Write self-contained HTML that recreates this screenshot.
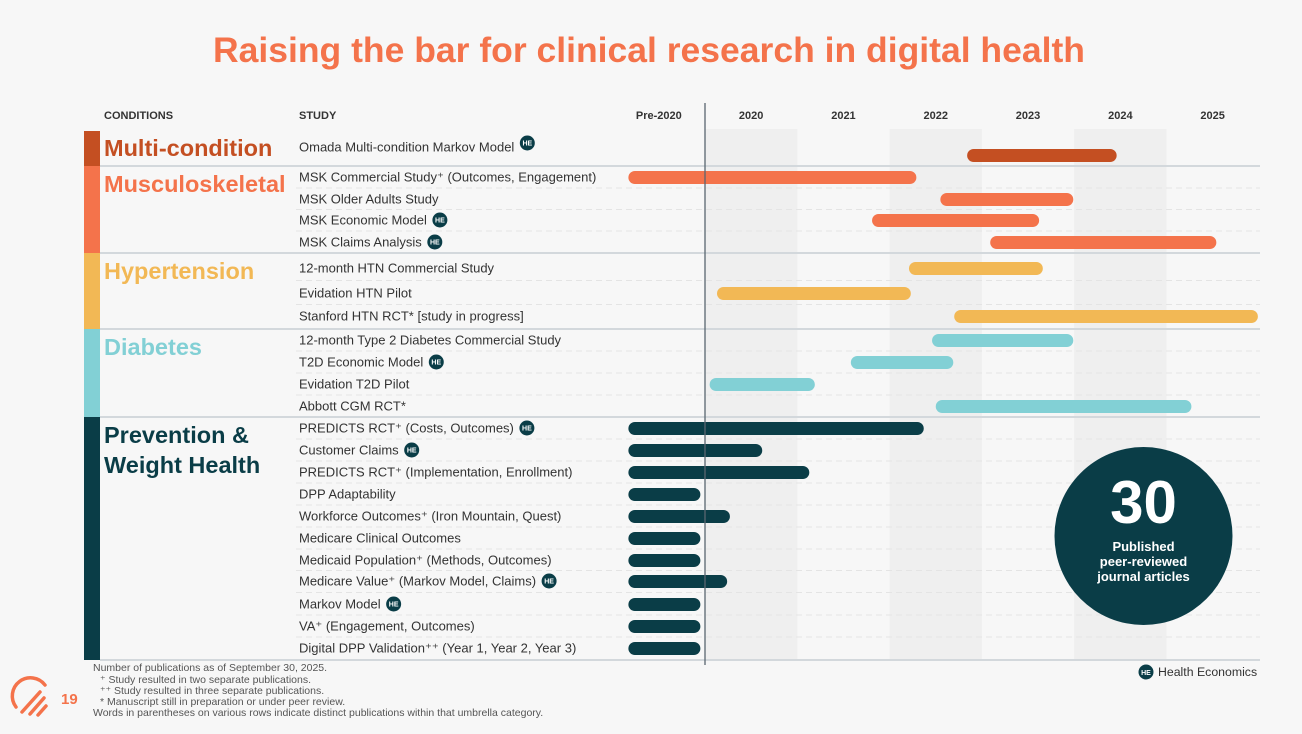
<!DOCTYPE html>
<html><head><meta charset="utf-8"><style>
html,body{margin:0;padding:0;background:#f7f7f7;}
body{width:1302px;height:729px;overflow:hidden;font-family:"Liberation Sans",sans-serif;}
svg text{font-family:"Liberation Sans",sans-serif;}
</style></head><body>
<svg id="chart" width="1302" height="729" viewBox="0 0 1302 729" xmlns="http://www.w3.org/2000/svg">
<rect width="1302" height="729" fill="#f7f7f7"/>
<text x="649" y="62" text-anchor="middle" font-size="35.5" font-weight="bold" fill="#f4734b">Raising the bar for clinical research in digital health</text>
<g id="bands"></g>
<g id="grid"></g>
<g id="groups"></g>
<g id="rows"></g>
<g id="bars"></g>
<text x="104" y="119" font-size="11" font-weight="bold" fill="#333">CONDITIONS</text>
<text x="299" y="119" font-size="11" font-weight="bold" fill="#333">STUDY</text>
<g id="ticks"></g>
<line x1="705" y1="103" x2="705" y2="665" stroke="#5a6670" stroke-width="1.3"/>
<g>
<circle cx="1143.5" cy="536" r="89" fill="#0a3d47"/>
<text x="1143.5" y="523" text-anchor="middle" font-size="60" font-weight="bold" fill="#fff">30</text>
<text x="1143.5" y="551" text-anchor="middle" font-size="13" font-weight="bold" fill="#fff">Published</text>
<text x="1143.5" y="566" text-anchor="middle" font-size="13" font-weight="bold" fill="#fff">peer-reviewed</text>
<text x="1143.5" y="581" text-anchor="middle" font-size="13" font-weight="bold" fill="#fff">journal articles</text>
</g>
<g>
<circle cx="1146" cy="672" r="7.5" fill="#0a3d47"/>
<text x="1146" y="675" text-anchor="middle" font-size="7" font-weight="bold" fill="#fff">HE</text>
<text x="1158" y="676" font-size="12.3" fill="#333">Health Economics</text>
</g>
<g font-size="10.5" fill="#555">
<text x="93" y="671">Number of publications as of September 30, 2025.</text>
<text x="100" y="683">⁺ Study resulted in two separate publications.</text>
<text x="100" y="694">⁺⁺ Study resulted in three separate publications.</text>
<text x="100" y="705">* Manuscript still in preparation or under peer review.</text>
<text x="93" y="716">Words in parentheses on various rows indicate distinct publications within that umbrella category.</text>
</g>
<g fill="none" stroke="#f4734b" stroke-width="3.5" stroke-linecap="round">
<path d="M16 707 A16 16 0 0 1 45 685"/>
<path d="M22 712 L40 692"/>
<path d="M30 714 L44 698"/>
<path d="M38 715 L46 706"/>
</g>
<text x="61" y="704" font-size="15" font-weight="bold" fill="#f4734b">19</text>
</svg>
<script>
const years = ["Pre-2020","2020","2021","2022","2023","2024","2025"];
const studies = ["Omada Multi-condition Markov Model","MSK Commercial Study⁺ (Outcomes, Engagement)","MSK Older Adults Study","MSK Economic Model","MSK Claims Analysis","12-month HTN Commercial Study","Evidation HTN Pilot","Stanford HTN RCT* [study in progress]","12-month Type 2 Diabetes Commercial Study","T2D Economic Model","Evidation T2D Pilot","Abbott CGM RCT*","PREDICTS RCT⁺ (Costs, Outcomes)","Customer Claims","PREDICTS RCT⁺ (Implementation, Enrollment)","DPP Adaptability","Workforce Outcomes⁺ (Iron Mountain, Quest)","Medicare Clinical Outcomes","Medicaid Population⁺ (Methods, Outcomes)","Medicare Value⁺ (Markov Model, Claims)","Markov Model","VA⁺ (Engagement, Outcomes)","Digital DPP Validation⁺⁺ (Year 1, Year 2, Year 3)"];
const rowGroup = [0,1,1,1,1,2,2,2,3,3,3,3,4,4,4,4,4,4,4,4,4,4,4];
const heFlags = [1,0,0,1,1,0,0,0,0,1,0,0,1,1,0,0,0,0,0,1,1,0,0];
const barStart = [2.84,-0.83,2.55,1.81,3.09,2.21,0.13,2.70,2.46,1.58,0.05,2.50,-0.83,-0.83,-0.83,-0.83,-0.83,-0.83,-0.83,-0.83,-0.83,-0.83,-0.83];
const barEnd = [4.46,2.29,3.99,3.62,5.54,3.66,2.23,5.99,3.99,2.69,1.19,5.27,2.37,0.62,1.13,-0.05,0.27,-0.05,-0.05,0.24,-0.05,-0.05,-0.05];
const groupNames = [["Multi-condition"],["Musculoskeletal"],["Hypertension"],["Diabetes"],["Prevention &","Weight Health"]];
const groupColors = ["#c44f22","#f4734b","#f2b855","#82d0d5","#0a3d47"];

const NS="http://www.w3.org/2000/svg";
function mk(tag,attrs,parent){const e=document.createElementNS(NS,tag);for(const k in attrs)e.setAttribute(k,attrs[k]);parent.appendChild(e);return e;}
const x0=705, yw=92.3;
function xs(v){return x0+v*yw;}
const rowY=[147,177,199,220,242,268,293,316,340,362,384,406,428,450,472,494,516,538,560,581,604,626,648];
const groupTop=[131,166,253,329,417];
const groupBot=[166,253,329,417,660];

const bands=document.getElementById('bands');
[0,2,4].forEach(k=>{
 const r=mk('rect',{x:xs(k),y:129,width:yw,height:531,fill:'#efefef'},bands);
 
 
});
const ticks=document.getElementById('ticks');
years.forEach((y,i)=>{
 const t=mk('text',{x:xs(i-0.5),y:119,'text-anchor':'middle','font-size':11,'font-weight':'bold',fill:'#333'},ticks);
 t.textContent=y;
 
 
});
const grid=document.getElementById('grid');
groupBot.forEach((yb)=>{
 const l=mk('line',{x1:100,y1:yb,x2:1260,y2:yb,stroke:'#d3d8dc','stroke-width':2},grid);
 
 
});
for(let i=0;i<rowY.length-1;i++){
 if(rowGroup[i]===rowGroup[i+1]){
  const yy=(rowY[i]+rowY[i+1])/2;
  const l=mk('line',{x1:296,y1:yy,x2:1260,y2:yy,stroke:'#e4e4e4','stroke-width':1,'stroke-dasharray':'6,4'},grid);
  
  
 }
}
const groups=document.getElementById('groups');
groupNames.forEach((g,i)=>{
 const r=mk('rect',{x:84,y:groupTop[i],width:16,height:groupBot[i]-groupTop[i],fill:groupColors[i]},groups);
 
 
 g.forEach((line,j)=>{
  const t=mk('text',{x:104,y:(i===0?156:groupTop[i]+26)+j*30,'font-size':23.5,'font-weight':'bold',fill:groupColors[i]},groups);
  t.textContent=line;
  
  
 });
});
const rows=document.getElementById('rows');
const bars=document.getElementById('bars');
studies.forEach((s,i)=>{
 const t=mk('text',{x:299,y:rowY[i]+4.5,'font-size':13,fill:'#333'},rows);
 t.textContent=s;
 
 
 if(heFlags[i]){
  const w=t.getComputedTextLength();
  const cx=299+w+13, cy=rowY[i]-(i===0?4:0);
  const c=mk('circle',{cx:cx,cy:cy,r:7.5,fill:'#0a3d47'},rows);
  
  
  const ht=mk('text',{x:cx,y:cy+2.5,'text-anchor':'middle','font-size':7,'font-weight':'bold',fill:'#fff'},rows);
  ht.textContent='HE';
  
  
 }
 const x1=xs(barStart[i]), x2=xs(barEnd[i]);
 const cy=rowY[i]+(i===0?8.5:0.5);
 const b=mk('rect',{x:x1,y:cy-6.5,width:x2-x1,height:13,rx:6.5,fill:groupColors[rowGroup[i]]},bars);
 
 
});
</script>
</body></html>
